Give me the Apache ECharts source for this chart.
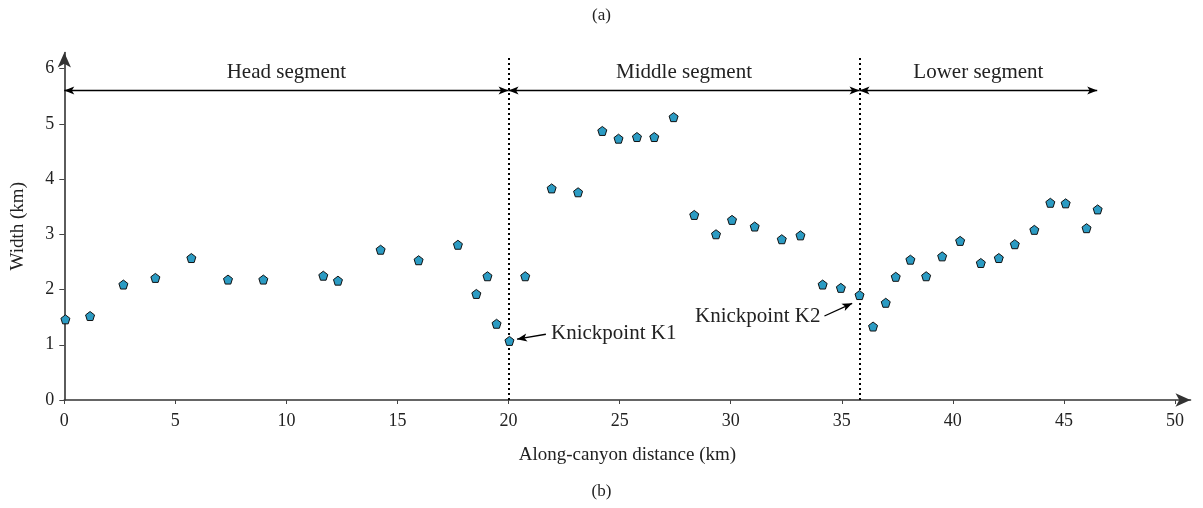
<!DOCTYPE html>
<html>
<head>
<meta charset="utf-8">
<script src="https://cdn.jsdelivr.net/npm/echarts@6/dist/echarts.min.js"></script>
<style>
html,body{margin:0;padding:0;background:#fff;}
#chart{width:1203px;height:508px;}
</style>
</head>
<body>
<div id="chart"></div>
<script>
// Along-canyon distance (km) and width (km)
const distance = [
  0.05, 1.16, 2.66, 4.10, 5.72, 7.37, 8.96, 11.66, 12.32, 14.24, 15.95, 17.72, 18.55, 19.05, 19.46, 20.04,
  20.75, 21.94, 23.13, 24.22, 24.95, 25.78, 26.56, 27.43, 28.36, 29.34, 30.06, 31.08, 32.30, 33.14, 34.14, 34.96, 35.80,
  36.41, 36.98, 37.43, 38.09, 38.80, 39.52, 40.33, 41.26, 42.07, 42.79, 43.67, 44.39, 45.08, 46.02, 46.52
];
const width = [
  1.46, 1.52, 2.09, 2.21, 2.57, 2.18, 2.18, 2.25, 2.16, 2.72, 2.53, 2.81, 1.92, 2.24, 1.38, 1.07,
  2.24, 3.83, 3.76, 4.87, 4.73, 4.76, 4.76, 5.12, 3.35, 3.00, 3.26, 3.14, 2.91, 2.98, 2.09, 2.03, 1.90,
  1.33, 1.76, 2.23, 2.54, 2.24, 2.60, 2.88, 2.48, 2.57, 2.82, 3.08, 3.57, 3.56, 3.11, 3.45
];
const segmentNames = ['Head segment', 'Middle segment', 'Lower segment'];
const segmentBounds = [0, 20, 35.8, 46.5];
const segmentArrowY = 5.6;
const segmentLabelY = 5.92;
const knickpoints = [20, 35.8];
const dividerTop = 6.2;
const knickLabels = ['Knickpoint K1', 'Knickpoint K2'];
const knickTextPos = [[21.91, 1.21], [34.04, 1.51]];
const knickArrowFrom = [[21.68, 1.19], [34.22, 1.52]];
const knickArrowTo = [[20.38, 1.10], [35.47, 1.75]];
const xTicks = [0, 5, 10, 15, 20, 25, 30, 35, 40, 45, 50];
const yTicks = [0, 1, 2, 3, 4, 5, 6];

const FONT = 'Liberation Serif';
const pentagon = 'path://M0,-10 L9.51,-3.09 L5.88,8.09 L-5.88,8.09 L-9.51,-3.09 Z';

const points = distance.map((d, i) => [d, width[i]]);

const markLines = [];
knickpoints.forEach(k => {
  markLines.push([
    {coord: [k, 0], symbol: 'none', lineStyle: {type: [2, 3], width: 2, color: '#000'}},
    {coord: [k, dividerTop], symbol: 'none'}
  ]);
});
for (let i = 0; i < segmentNames.length; i++) {
  markLines.push([
    {coord: [segmentBounds[i], segmentArrowY], symbol: 'arrow', lineStyle: {type: 'solid', width: 1.3, color: '#000'}},
    {coord: [segmentBounds[i + 1], segmentArrowY], symbol: 'arrow'}
  ]);
}
knickArrowFrom.forEach((f, i) => {
  markLines.push([
    {coord: f, symbol: 'none', lineStyle: {type: 'solid', width: 1.3, color: '#000'}},
    {coord: knickArrowTo[i], symbol: 'arrow'}
  ]);
});

const markPoints = [];
segmentNames.forEach((n, i) => {
  markPoints.push({
    coord: [(segmentBounds[i] + segmentBounds[i + 1]) / 2, segmentLabelY],
    label: {formatter: n, align: 'center'}
  });
});
knickLabels.forEach((n, i) => {
  markPoints.push({
    coord: knickTextPos[i],
    label: {formatter: n, align: i === 0 ? 'left' : 'right'}
  });
});

const chart = echarts.init(document.getElementById('chart'), null, {renderer: 'canvas'});
chart.setOption({
  animation: false,
  backgroundColor: '#fff',
  title: [
    {text: '(a)', left: 'center', top: 2, textStyle: {fontFamily: FONT, fontSize: 17, fontWeight: 'normal', color: '#222'}},
    {text: '(b)', left: 'center', top: 478, textStyle: {fontFamily: FONT, fontSize: 17, fontWeight: 'normal', color: '#222'}}
  ],
  grid: {left: 64.3, right: 12.5, top: 52.5, bottom: 108, containLabel: false},
  xAxis: {
    type: 'value', min: 0, max: 50.7, interval: 5,
    name: 'Along-canyon distance (km)', nameLocation: 'middle', nameGap: 46,
    nameTextStyle: {fontFamily: FONT, fontSize: 19, color: '#222'},
    splitLine: {show: false},
    axisLine: {lineStyle: {color: '#333', width: 1.6}, symbol: ['none', 'arrow'], symbolSize: [10, 15]},
    axisTick: {length: 4, lineStyle: {color: '#444', width: 1}, customValues: xTicks},
    axisLabel: {
      fontFamily: FONT, fontSize: 18, color: '#222', margin: 12,
      customValues: xTicks,
      formatter: v => xTicks.includes(v) ? String(v) : ''
    }
  },
  yAxis: {
    type: 'value', min: 0, max: 6.29, interval: 1,
    name: 'Width (km)', nameLocation: 'middle', nameGap: 37, nameRotate: 90,
    nameTextStyle: {fontFamily: FONT, fontSize: 19, color: '#222'},
    splitLine: {show: false},
    axisLine: {lineStyle: {color: '#333', width: 1.6}, symbol: ['none', 'arrow'], symbolSize: [10, 15]},
    axisTick: {length: 5, lineStyle: {color: '#444', width: 1}, customValues: yTicks},
    axisLabel: {
      fontFamily: FONT, fontSize: 18, color: '#222', margin: 10,
      customValues: yTicks,
      formatter: v => yTicks.includes(v) ? String(v) : ''
    }
  },
  series: [{
    type: 'scatter',
    data: points,
    symbol: pentagon,
    symbolSize: 9,
    itemStyle: {color: '#2b9bc3', borderColor: '#111', borderWidth: 1, opacity: 1},
    emphasis: {disabled: true},
    silent: true,
    z: 5,
    markLine: {
      silent: true,
      symbolSize: [6, 10],
      label: {show: false},
      emphasis: {disabled: true},
      data: markLines
    },
    markPoint: {
      silent: true,
      symbol: 'circle',
      symbolSize: 0,
      itemStyle: {color: 'transparent'},
      label: {show: true, position: 'inside', verticalAlign: 'middle', fontFamily: FONT, fontSize: 21, color: '#222'},
      data: markPoints
    }
  }]
});
</script>
</body>
</html>
